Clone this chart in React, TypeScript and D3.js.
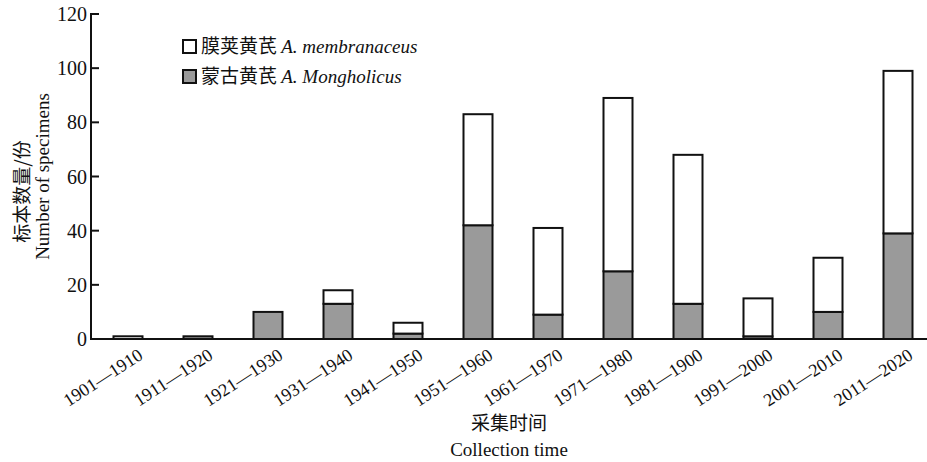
import React from "react";
import * as d3 from "d3";

const periods = [
  "1901—1910", "1911—1920", "1921—1930", "1931—1940", "1941—1950", "1951—1960",
  "1961—1970", "1971—1980", "1981—1900", "1991—2000", "2001—2010", "2011—2020",
];
const mongholicus = [0, 1, 10, 13, 2, 42, 9, 25, 13, 1, 10, 39];
const membranaceus = [1, 0, 0, 5, 4, 41, 32, 64, 55, 14, 20, 60];
const yTicks = [0, 20, 40, 60, 80, 100, 120];

const W = 927;
const H = 462;
const left = 91;
const top = 14;
const bottom = 339;
const serif = "'Liberation Serif', 'DejaVu Serif', serif";
const cjk = "'Noto Sans CJK SC', sans-serif";

export default function App() {
  const x = d3.scaleBand<string>().domain(periods).range([93, 933]).paddingInner(0.586).paddingOuter(0.293);
  const y = d3.scaleLinear().domain([0, 120]).range([bottom, top]);
  const bw = 29;

  const rows = periods.map((p, i) => ({ p, m: mongholicus[i], a: membranaceus[i] }));
  const stack = d3.stack<any>().keys(["m", "a"])(rows as any);
  const fills = ["#9a9a9a", "#ffffff"];

  return (
    <svg width={W} height={H} style={{ position: "absolute", left: 0, top: 0, background: "#fff" }}>
      {/* bars */}
      {stack.map((layer, li) =>
        layer.map((d, i) => {
          const v = d[1] - d[0];
          if (v <= 0) return null;
          const cx = (x(periods[i]) as number) + x.bandwidth() / 2;
          return (
            <rect
              key={li + "-" + i}
              x={cx - bw / 2}
              y={y(d[1])}
              width={bw}
              height={y(d[0]) - y(d[1])}
              fill={fills[li]}
              stroke="#111"
              strokeWidth={2}
            />
          );
        })
      )}

      {/* axes */}
      <line x1={left} x2={left} y1={top - 1} y2={bottom + 1} stroke="#111" strokeWidth={2} />
      <line x1={left - 1} x2={W} y1={bottom} y2={bottom} stroke="#111" strokeWidth={2} />
      {yTicks.map((t) => (
        <g key={t}>
          <line x1={left} x2={left + 8} y1={y(t)} y2={y(t)} stroke="#111" strokeWidth={2} />
          <text x={left - 4} y={y(t) + 7} textAnchor="end" fontFamily={serif} fontSize={20} fill="#111">
            {t}
          </text>
        </g>
      ))}

      {/* category labels */}
      {periods.map((p) => {
        const cx = (x(p) as number) + x.bandwidth() / 2;
        return (
          <text
            key={p}
            transform={`translate(${cx + 16},${bottom + 19}) rotate(-33)`}
            textAnchor="end"
            fontFamily={serif}
            fontSize={18}
            fill="#111"
          >
            {p}
          </text>
        );
      })}

      {/* axis titles */}
      <text x={509} y={430} textAnchor="middle" fontFamily={cjk} fontSize={19} fill="#111">采集时间</text>
      <text x={509} y={456} textAnchor="middle" fontFamily={serif} fontSize={19} fill="#111">Collection time</text>
      <g transform={`translate(29,${(top + bottom) / 2 + 15}) rotate(-90)`}>
        <text x={0} y={0} textAnchor="middle" fontFamily={cjk} fontSize={19} fill="#111">标本数量/份</text>
      </g>
      <g transform={`translate(49,${(top + bottom) / 2}) rotate(-90)`}>
        <text x={0} y={0} textAnchor="middle" fontFamily={serif} fontSize={19} fill="#111">Number of specimens</text>
      </g>

      {/* legend */}
      <rect x={183} y={40} width={13} height={13} fill="#fff" stroke="#111" strokeWidth={2} />
      <text x={201} y={53} fontFamily={cjk} fontSize={19} fill="#111">
        膜荚黄芪 <tspan fontFamily={serif} fontStyle="italic">A. membranaceus</tspan>
      </text>
      <rect x={183} y={70} width={13} height={13} fill="#9a9a9a" stroke="#111" strokeWidth={2} />
      <text x={201} y={83} fontFamily={cjk} fontSize={19} fill="#111">
        蒙古黄芪 <tspan fontFamily={serif} fontStyle="italic">A. Mongholicus</tspan>
      </text>
    </svg>
  );
}
